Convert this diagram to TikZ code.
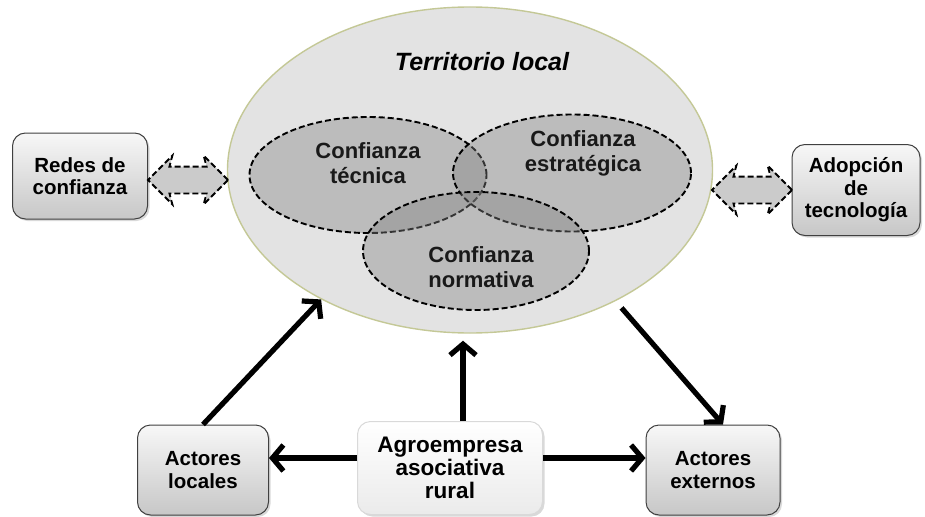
\documentclass[tikz,border=0pt]{standalone}
\usepackage{fontspec}
\setmainfont{Liberation Sans}
\usetikzlibrary{shapes.geometric,shapes.arrows,arrows.meta,shadows}
\definecolor{terrfill}{RGB}{227,227,227}
\definecolor{terrbd}{RGB}{196,200,150}
\definecolor{conffill}{RGB}{130,130,130}
\definecolor{arrfill}{RGB}{203,203,203}
\begin{document}
\begin{tikzpicture}[x=1pt,y=-1pt,
  box/.style={draw=black!75, line width=1pt, rounded corners=13pt,
    top color=black!3, bottom color=black!22, inner sep=0pt, align=center,
    font=\fontsize{20.5}{22.5}\selectfont\bfseries,
    drop shadow={shadow xshift=2pt, shadow yshift=-2pt, opacity=0.3}},
  agrobox/.style={box, draw=black!15, top color=white, bottom color=black!8},
  conf/.style={ellipse, draw=black, line width=1.9pt, dash pattern=on 6pt off 3pt,
    fill=conffill, fill opacity=0.4, inner sep=0pt},
  conftext/.style={align=center, font=\fontsize{22}{25}\selectfont\bfseries, text=black!90},
  darrow/.style={double arrow, draw=black, line width=1.8pt, dash pattern=on 6pt off 3pt,
    fill=arrfill, inner xsep=0pt, inner ysep=12.5pt, minimum height=80pt, minimum width=47pt,
    double arrow head extend=11pt, double arrow head indent=3pt},
  arr/.style={line width=5.2pt, -{Straight Barb[length=11pt,width=26pt]}}
]
\useasboundingbox (0,0) rectangle (925,516);

% territory
\node[ellipse, draw=terrbd, line width=1.4pt, fill=terrfill, inner sep=0pt,
  minimum width=485pt, minimum height=326pt] (terr) at (470,170) {};
\node[font=\fontsize{25}{28}\selectfont\bfseries\itshape] (tl) at (482,62) {Territorio local};

% trust ellipses
\node[conf, minimum width=237pt, minimum height=116pt] (tec) at (368,175) {};
\node[conf, minimum width=238pt, minimum height=117pt] (estr) at (572,173) {};
\node[conf, minimum width=226pt, minimum height=118pt] (norm) at (476,251) {};
\node[conftext] (tect) at (368,163) {Confianza\\técnica};
\node[conftext] (estrt) at (583,153) {Confianza\\estratégica};
\node[conftext] (normt) at (481,267) {Confianza\\normativa};

% side boxes
\node[box, minimum width=135pt, minimum height=86pt] (redes) at (80,176) {Redes de\\confianza};
\node[box, minimum width=128pt, minimum height=91pt] (adop) at (856,190) {Adopción\\de\\tecnología};
\node[darrow] (la) at (188,180) {};
\node[darrow] (ra) at (752,190) {};

% bottom boxes
\node[box, minimum width=131pt, minimum height=90pt] (loc) at (203,470) {Actores\\locales};
\node[agrobox, minimum width=185pt, minimum height=93pt, font=\fontsize{22.5}{23}\selectfont\bfseries] (agro) at (450,468) {Agroempresa\\asociativa\\rural};
\node[box, minimum width=134pt, minimum height=90pt] (ext) at (713,470) {Actores\\externos};

% arrows
\draw[arr] (loc.north) -- (terr.221);
\draw[arr, shorten >=7pt] ([xshift=13pt]agro.north) -- ([xshift=13pt]agro.north |- terr.south);
\draw[arr, shorten <=9pt] (terr.318) -- ([xshift=10pt]ext.north);
\draw[arr] (agro.west |- 0,458) -- (loc.east |- 0,458);
\draw[arr] (agro.east |- 0,458) -- (ext.west |- 0,458);
\end{tikzpicture}
\end{document}
